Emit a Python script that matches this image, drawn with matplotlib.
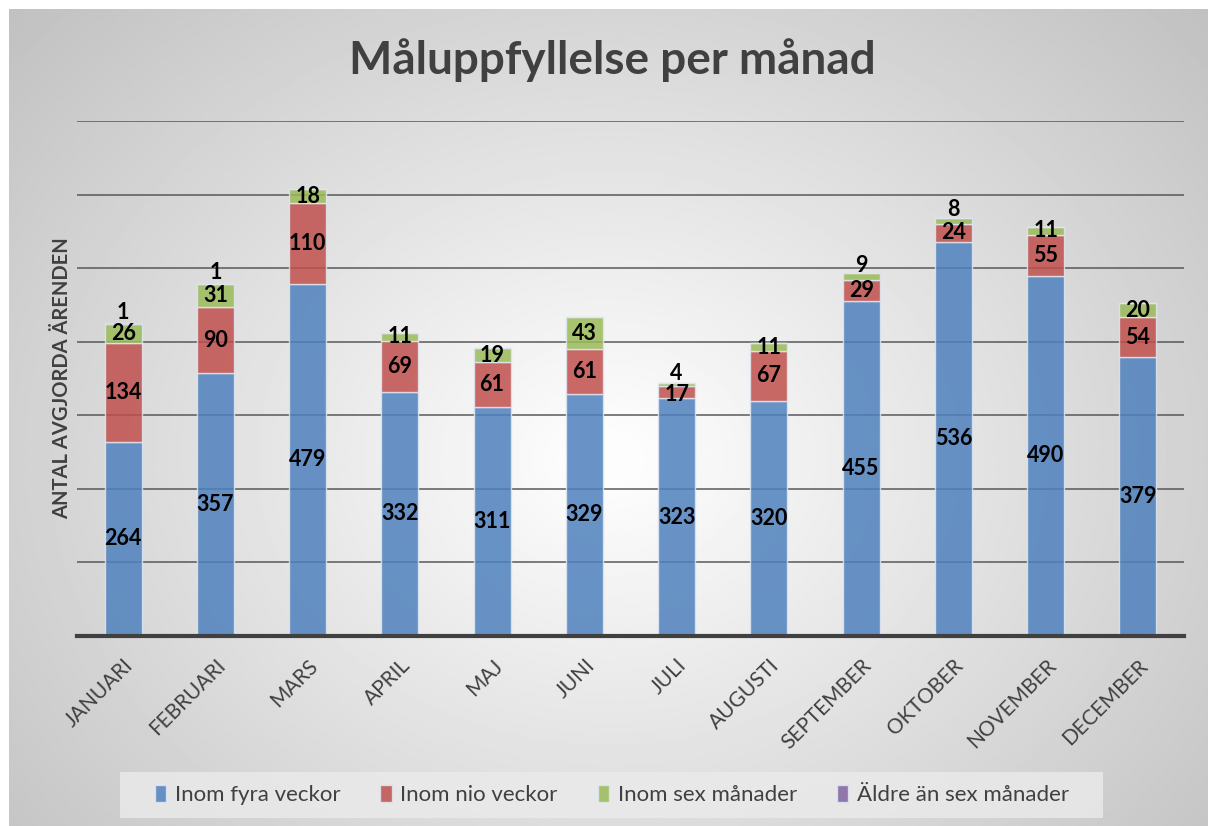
import numpy as np
import matplotlib
matplotlib.use("Agg")
import matplotlib.pyplot as plt
from matplotlib.patches import Rectangle, Patch

months = ["JANUARI", "FEBRUARI", "MARS", "APRIL", "MAJ", "JUNI",
          "JULI", "AUGUSTI", "SEPTEMBER", "OKTOBER", "NOVEMBER", "DECEMBER"]
fyra_veckor = [264, 357, 479, 332, 311, 329, 323, 320, 455, 536, 490, 379]
nio_veckor = [134, 90, 110, 69, 61, 61, 17, 67, 29, 24, 55, 54]
sex_manader = [26, 31, 18, 11, 19, 43, 4, 11, 9, 8, 11, 20]
aldre = [1, 1, 0, 0, 0, 0, 0, 0, 0, 0, 0, 0]

series = [
    ("Inom fyra veckor", fyra_veckor, "#4f81bd"),
    ("Inom nio veckor", nio_veckor, "#c0504d"),
    ("Inom sex månader", sex_manader, "#9bbb59"),
    ("Äldre än sex månader", aldre, "#8064a2"),
]

plt.rcParams["font.family"] = ["Lato", "DejaVu Sans"]
text_col = "#404040"

fig = plt.figure(figsize=(12.08, 8.26), dpi=100)

# radial grey background
bg = fig.add_axes([9 / 1208, 0, 1 - 9 / 1208, 1 - 9 / 826], zorder=0)
yy, xx = np.mgrid[0:1:400j, 0:1:600j]
r = np.sqrt(((xx - 0.5) * 1.2) ** 2 + ((yy - 0.55) * 1.0) ** 2)
shade = np.clip(1.0 - 0.30 * r, 0.75, 0.99)
bg.imshow(shade, cmap="gray", vmin=0, vmax=1, aspect="auto", extent=[0, 1, 0, 1])
bg.axis("off")

ax = fig.add_axes([77 / 1208, 190 / 826, 1107 / 1208, 515 / 826], zorder=2)
ax.patch.set_alpha(0)

x = np.arange(len(months))
bottom = np.zeros(len(months))
for name, vals, col in series:
    vals = np.array(vals, dtype=float)
    ax.bar(x, vals, 0.4, bottom=bottom, color=col, alpha=0.85,
           edgecolor="#dfe6f0", linewidth=1.0, label=name, zorder=2)
    for i, v in enumerate(vals):
        if v <= 0:
            continue
        # tiny segments: push label up a little, like Excel does
        off = 8 if v < 10 else 0
        if v < 20 and name == "Inom nio veckor":
            off = -1.5
        ax.annotate(f"{int(v)}", (x[i], bottom[i] + v / 2), xytext=(0, off),
                    textcoords="offset points", ha="center", va="center",
                    fontsize=15.5, fontweight="bold", color="black", zorder=4)
    bottom += vals

ax.set_xlim(-0.5, len(months) - 0.5)
ax.set_ylim(0, 700)
ax.set_yticks(np.arange(100, 701, 100))
ax.set_yticklabels([])
ax.tick_params(axis="y", length=0)
ax.yaxis.grid(True, color="#505050", linewidth=1.3, alpha=0.8, zorder=1)
ax.set_axisbelow(True)
for s in ["top", "right", "left"]:
    ax.spines[s].set_visible(False)
ax.spines["bottom"].set_color("#404040")
ax.spines["bottom"].set_linewidth(3)
ax.spines["bottom"].set_zorder(5)

ax.set_xticks(x)
ax.set_xticklabels(months, rotation=45, ha="right", rotation_mode="anchor",
                   fontsize=15, color=text_col)
ax.tick_params(axis="x", length=0, pad=14)

ax.set_ylabel("ANTAL AVGJORDA ÄRENDEN", fontsize=14.5, fontweight="bold",
              color=text_col, labelpad=0)

fig.text(0.507, 1 - 60 / 826, "Måluppfyllelse per månad", ha="center",
         va="center", fontsize=33, fontweight="bold", color=text_col, zorder=3)

# legend box
fig.patches.append(Rectangle((120 / 1208, 8 / 826), 983 / 1208, 46 / 826,
                             transform=fig.transFigure, facecolor="#ebebeb",
                             edgecolor="none", alpha=0.8, zorder=1))
handles = [Patch(facecolor=c, alpha=0.85, edgecolor="#dfe6f0") for _, _, c in series]
fig.legend(handles, [n for n, _, _ in series], loc="center",
           bbox_to_anchor=(612 / 1208, 31 / 826), ncol=4, frameon=False,
           fontsize=16, handlelength=0.5, handleheight=0.8, handletextpad=0.4,
           columnspacing=1.8, labelcolor=text_col)

fig.savefig("out.png", dpi=100)
